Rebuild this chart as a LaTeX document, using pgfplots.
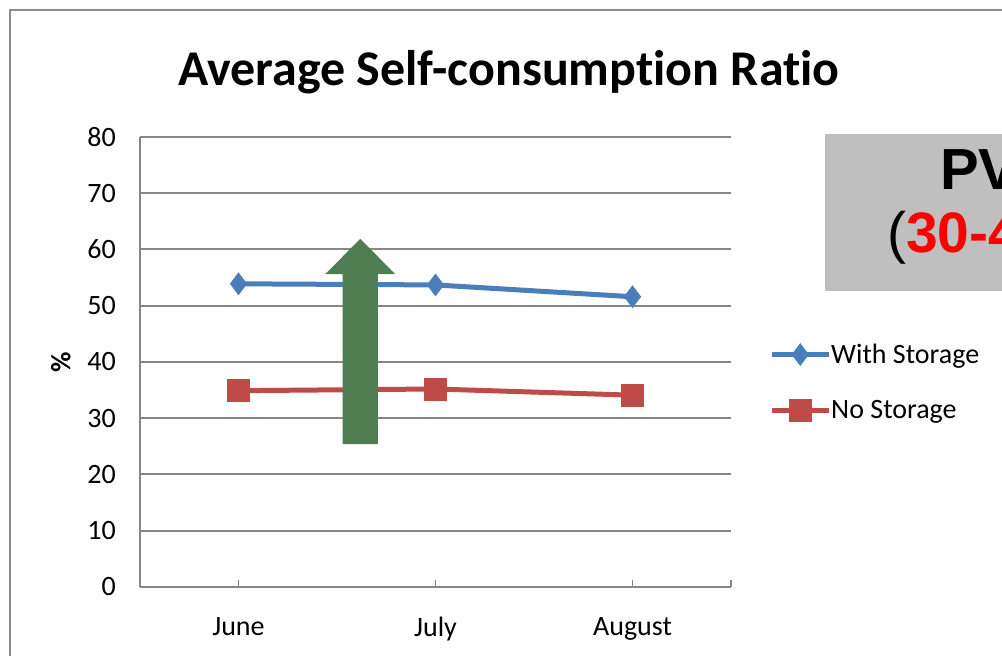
\documentclass[border=0pt]{standalone}
\usepackage{fontspec}
\setmainfont[Ligatures=NoCommon]{Carlito}
\newfontfamily\arialfont{Liberation Sans}
\usepackage{pgfplots}
\pgfplotsset{compat=1.18}

\definecolor{seriesblue}{HTML}{4A7EBB}
\definecolor{seriesred}{HTML}{BE4B48}
\definecolor{gridgray}{HTML}{868686}
\definecolor{framegray}{HTML}{8C8C8C}
\definecolor{arrowgreen}{HTML}{507E52}
\definecolor{boxgray}{HTML}{BFBFBF}
\definecolor{pvred}{HTML}{FF0000}

\begin{document}
\begin{tikzpicture}[x=1pt,y=1pt]
\path[use as bounding box, clip] (0,0) rectangle (1002,656);
% chart area frame
\draw[framegray, line width=2pt] (10,-20) -- (10,645.5) -- (1040,645.5);
% title
\node[anchor=base, inner sep=0pt, font=\bfseries\fontsize{50}{54}\selectfont] at (509,570) {Average Self-consumption Ratio};
\begin{axis}[
  at={(140pt,69pt)}, anchor=south west,
  scale only axis, width=591pt, height=450pt,
  xmin=-0.5, xmax=2.5, ymin=0, ymax=80,
  xtick={0,1,2}, xticklabels={June,July,August},
  extra x ticks={-0.5,2.5}, extra x tick labels={},
  ytick={0,10,...,80},
  axis x line*=bottom, axis y line*=left,
  axis line style={gridgray, line width=2pt, -},
  ymajorgrids,
  major grid style={gridgray, line width=2pt},
  tick align=inside,
  major tick length=7pt,
  xtick style={gridgray, line width=1.5pt},
  extra x tick style={xtick style={gridgray, line width=1.5pt}},
  ytick style={draw=none},
  tick label style={font=\fontsize{28}{30}\selectfont},
  /pgf/number format/assume math mode=true,
  yticklabel style={inner sep=0pt, xshift=-24pt, anchor=east},
  xticklabel style={inner sep=0pt, anchor=north, yshift=-30pt},
  ylabel={\bfseries\%},
  ylabel style={at={(axis description cs:-0.134,0.5)}, anchor=center, font=\fontsize{28}{30}\selectfont},
  legend style={at={(1.0593,0.4544)}, anchor=west, draw=none, fill=none,
    font=\fontsize{28}{30}\selectfont, row sep=34pt,
    nodes={inner sep=0pt},
    /tikz/every even column/.append style={column sep=6pt}},
  legend cell align=left,
  legend image code/.code={\draw[mark repeat=2, mark phase=2, #1] plot coordinates {(0pt,0pt)(28.5pt,0pt)(57pt,0pt)};},
  clip=false,
]
\addplot[seriesblue, line width=5pt, mark=diamond*, mark size=11pt, mark options={solid, line width=0.5pt}]
  coordinates {(0,53.9) (1,53.7) (2,51.6)};
\addlegendentry{With Storage}
\addplot[seriesred, line width=5pt, mark=square*, mark size=11pt, mark options={solid, line width=0.5pt}]
  coordinates {(0,34.9) (1,35.2) (2,34.1)};
\addlegendentry{No Storage}
% upward arrow between June and July
\fill[arrowgreen] (axis cs:0.529,25.4) -- (axis cs:0.707,25.4) -- (axis cs:0.707,55.6)
  -- (axis cs:0.796,55.6) -- (axis cs:0.618,61.9) -- (axis cs:0.440,55.6)
  -- (axis cs:0.529,55.6) -- cycle;
\end{axis}
% PV callout box (runs on past the right edge)
\fill[boxgray] (825,365) rectangle (1120,522);
\node[anchor=base west, inner sep=0pt, font=\arialfont\bfseries\fontsize{58}{60}\selectfont] at (940,466) {PV};
\node[anchor=base west, inner sep=0pt, font=\arialfont\fontsize{57}{60}\selectfont] at (887,403) {(\textcolor{pvred}{\bfseries 30-40\%})};
\end{tikzpicture}
\end{document}
